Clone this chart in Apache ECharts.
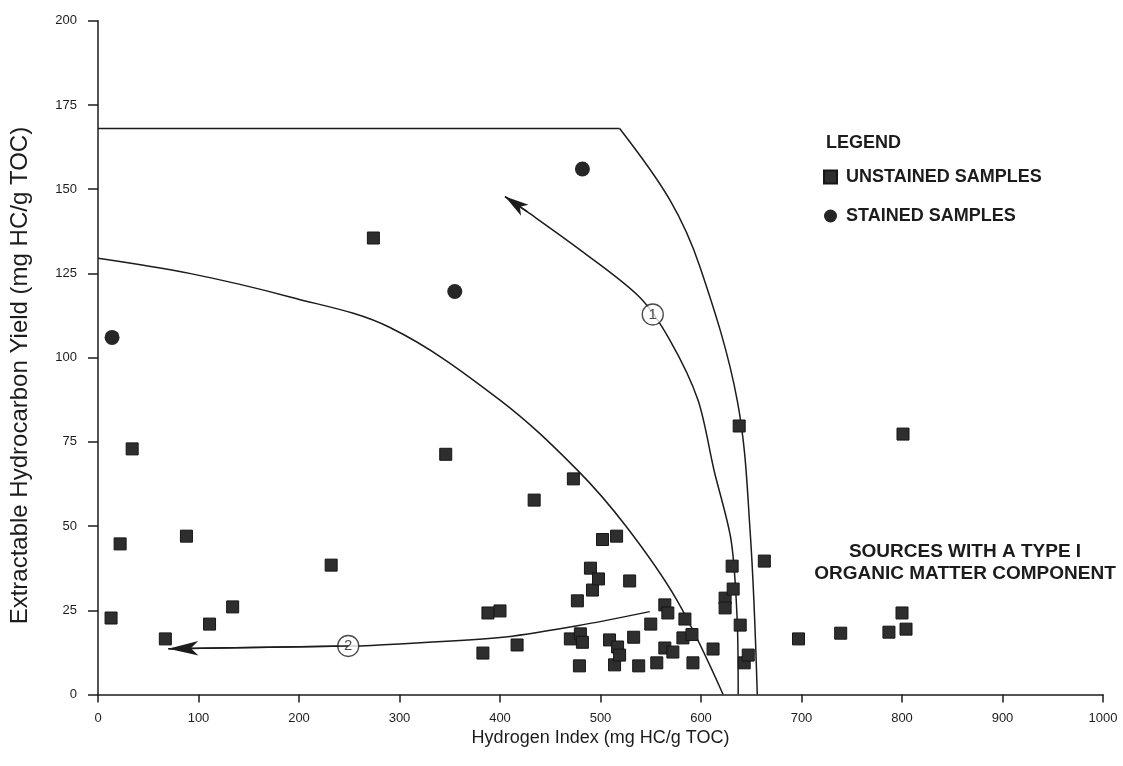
<!DOCTYPE html>
<html>
<head>
<meta charset="utf-8">
<title>Hydrogen Index vs Extractable Hydrocarbon Yield</title>
<script src="https://cdn.jsdelivr.net/npm/echarts@6/dist/echarts.min.js"></script>
<style>
  html, body { margin: 0; padding: 0; background: #ffffff; }
  #chart { width: 1123px; height: 766px; }
</style>
</head>
<body>
<div id="chart"></div>
<script>
// Samples: [Hydrogen Index, Extractable Hydrocarbon Yield]
const unstained = [
  [13, 22.7], [22, 44.7], [34, 72.9], [67, 16.5], [88, 47], [111, 20.9], [134, 26],
  [232, 38.4], [274, 135.5], [346, 71.3], [383, 12.3], [388, 24.2], [400, 24.8],
  [417, 14.7], [434, 57.7], [473, 64], [470, 16.5], [477, 27.8], [479, 8.5], [480, 18],
  [482, 15.5], [490, 37.5], [492, 31], [498, 34.3], [502, 46], [509, 16.2], [514, 8.8],
  [516, 47], [517, 14.1], [519, 11.7], [529, 33.7], [533, 17], [538, 8.5], [550, 20.9],
  [556, 9.4], [564, 13.8], [564, 26.6], [567, 24.2], [572, 12.6], [582, 16.8], [584, 22.4],
  [591, 17.8], [592, 9.4], [612, 13.5], [624, 28.6], [624, 25.7], [631, 38.1], [632, 31.3],
  [638, 79.7], [639, 20.6], [643, 9.4], [647, 11.7], [663, 39.6], [697, 16.5], [739, 18.2],
  [787, 18.5], [800, 24.2], [801, 77.3], [804, 19.4]
];
const stained = [[14, 106], [355, 119.6], [482, 156]];

// Field boundaries
const upperLimit = [[0, 168], [519, 168]];
const outerBoundary = [[519, 168], [569, 146.8], [599, 126.9], [636, 87.4], [649, 47.9], [656, 0]];
const innerBoundary = [[0, 129.5], [91, 125], [191, 118], [290, 109], [400, 87.4], [477, 66.6], [526, 49.7], [576, 28], [622, 0]];

// Trend paths, drawn from start to arrow tip
const trend1 = [[637, 0], [636, 22.2], [630, 45.7], [613, 66.5], [597, 87.4], [569, 105.2], [539, 117.9], [480, 131.9], [427, 143.3], [405, 147.8]];
const trend2 = [[549, 24.6], [477, 20.4], [400, 16.9], [266, 14.5], [249, 14.4], [70, 13.6]];
const trendTags = [
  { label: '1', at: [552, 112.8] },
  { label: '2', at: [249, 14.4] }
];

const INK = '#1c1c1c';
const FONT = '"Liberation Sans", Arial, Helvetica, sans-serif';

function curve(name, data, smooth) {
  return {
    name: name, type: 'line', data: data, smooth: smooth, showSymbol: false, symbol: 'none',
    silent: true, z: 2,
    lineStyle: { color: INK, width: 1.5 }
  };
}

function trend(name, data, arrowSize) {
  const s = curve(name, data, 0.3);
  const n = data.length;
  s.markLine = {
    silent: true, animation: false,
    symbol: ['none', 'arrow'],
    symbolSize: arrowSize,
    label: { show: false },
    lineStyle: { color: INK, width: 1.5, type: 'solid' },
    data: [[{ coord: data[n - 2] }, { coord: data[n - 1] }]]
  };
  return s;
}

const chart = echarts.init(document.getElementById('chart'), null, { renderer: 'canvas' });

chart.setOption({
  animation: false,
  backgroundColor: '#ffffff',
  textStyle: { fontFamily: FONT },
  title: {
    text: 'LEGEND', left: 821, top: 129,
    textStyle: { fontFamily: FONT, fontSize: 18, fontWeight: 'bold', color: INK }
  },
  legend: {
    data: ['UNSTAINED SAMPLES', 'STAINED SAMPLES'],
    orient: 'vertical', left: 818, top: 163,
    itemWidth: 13, itemHeight: 13, itemGap: 21,
    selectedMode: false,
    textStyle: { fontFamily: FONT, fontSize: 18, fontWeight: 'bold', color: INK, padding: [0, 0, 0, 4] }
  },
  grid: { left: 98, right: 20, top: 20.7, bottom: 71.5, containLabel: false },
  xAxis: {
    type: 'value', min: 0, max: 1000, interval: 100,
    name: 'Hydrogen Index (mg HC/g TOC)', nameLocation: 'middle', nameGap: 35,
    nameTextStyle: { fontFamily: FONT, fontSize: 18, color: INK },
    axisLine: { lineStyle: { color: INK, width: 1.5 } },
    axisTick: { show: true, inside: false, length: 8, lineStyle: { color: INK, width: 1.5 } },
    axisLabel: { fontFamily: FONT, fontSize: 13, color: INK, margin: 17, formatter: v => String(v) },
    splitLine: { show: false }
  },
  yAxis: {
    type: 'value', min: 0, max: 200, interval: 25,
    name: 'Extractable Hydrocarbon Yield (mg HC/g TOC)', nameLocation: 'middle', nameGap: 66,
    nameTextStyle: { fontFamily: FONT, fontSize: 24, color: INK, padding: [0, 36, 0, 0] },
    axisLine: { show: true, lineStyle: { color: INK, width: 1.5 } },
    axisTick: { show: true, inside: false, length: 10, lineStyle: { color: INK, width: 1.5 } },
    axisLabel: { fontFamily: FONT, fontSize: 13, color: INK, margin: 21 },
    splitLine: { show: false }
  },
  graphic: [{
    type: 'text', left: 810, top: 541, z: 10,
    style: {
      text: 'SOURCES WITH A TYPE I\nORGANIC MATTER COMPONENT',
      fontFamily: FONT, fontSize: 19, fontWeight: 'bold', fill: INK,
      textAlign: 'center', lineHeight: 22, width: 310
    }
  }],
  series: [
    curve('upper limit', upperLimit, false),
    curve('outer boundary', outerBoundary, 0.35),
    curve('inner boundary', innerBoundary, 0.35),
    trend('trend 1', trend1, [10, 24]),
    trend('trend 2', trend2, [11, 30]),
    {
      name: 'trend tags', type: 'scatter', silent: true, z: 4,
      data: trendTags.map(t => ({ value: t.at, label: { formatter: t.label } })),
      symbol: 'circle', symbolSize: 21,
      itemStyle: { color: '#ffffff', borderColor: INK, borderWidth: 1.3 },
      label: { show: true, position: 'inside', fontFamily: FONT, fontSize: 15, color: INK }
    },
    {
      name: 'UNSTAINED SAMPLES', type: 'scatter', z: 5,
      data: unstained, symbol: 'rect', symbolSize: 12,
      itemStyle: { color: '#2e2e2e', borderColor: '#161616', borderWidth: 1, opacity: 1 }
    },
    {
      name: 'STAINED SAMPLES', type: 'scatter', z: 5,
      data: stained, symbol: 'circle', symbolSize: 15,
      itemStyle: { color: '#262626', opacity: 1 }
    }
  ]
});
</script>
</body>
</html>
